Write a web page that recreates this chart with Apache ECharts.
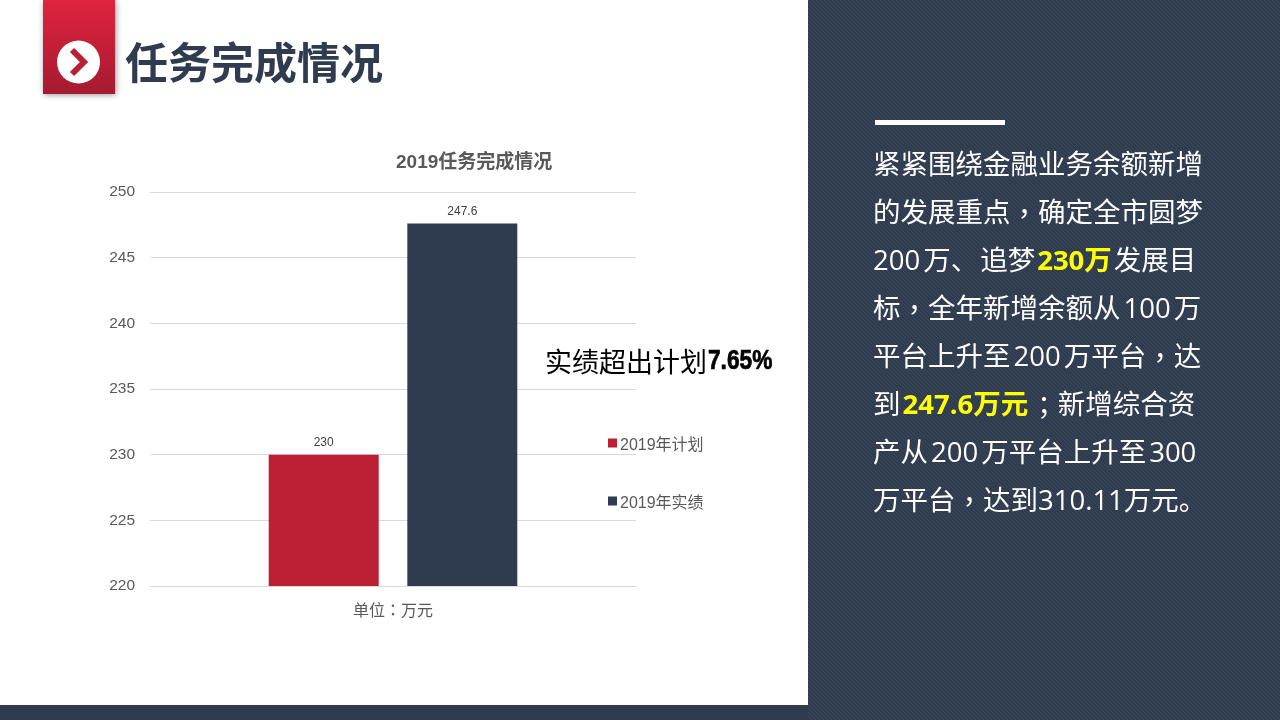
<!DOCTYPE html>
<html>
<head>
<meta charset="utf-8">
<title>任务完成情况</title>
<script src="https://cdn.jsdelivr.net/npm/echarts@6/dist/echarts.min.js"></script>
<style>
html, body { margin: 0; padding: 0; background: #fff; }
#chart { width: 1280px; height: 720px; }
</style>
</head>
<body>
<div id="chart"></div>
<script>
var pageTitle = '任务完成情况';
var chartTitle = '2019任务完成情况';
var categories = ['单位：万元'];
var planName = '2019年计划';
var actualName = '2019年实绩';
var planValues = [230];
var actualValues = [247.6];
var noteText = '实绩超出计划';
var notePercent = '7.65%';

// 右侧说明文字：t 普通，h 黄色加粗，p 居中标点，d 数字（两侧留空）
var sideLines = [
    [['t', '紧紧围绕金融业务余额新增']],
    [['t', '的发展重点'], ['p', '，'], ['t', '确定全市圆梦']],
    [['d', '200'], ['t', '万'], ['s', '、'], ['t', '追梦'], ['h', '230万'], ['t', '发展目']],
    [['t', '标'], ['p', '，'], ['t', '全年新增余额从'], ['d', '100'], ['t', '万']],
    [['t', '平台上升至'], ['d', '200'], ['t', '万平台'], ['p', '，'], ['t', '达']],
    [['t', '到'], ['h', '247.6万元'], ['p', '；'], ['t', '新增综合资']],
    [['t', '产从'], ['d', '200'], ['t', '万平台上升至'], ['d', '300']],
    [['t', '万平台'], ['p', '，'], ['t', '达到310.11万元。']]
];

var cjk = '"Open Sans", "Noto Sans CJK SC", sans-serif';
var cjkTc = '"Noto Sans CJK TC", sans-serif';
var arial = '"Liberation Sans", "Noto Sans CJK SC", sans-serif';
var navy = '#2f3b4e';
var red = '#bb1f33';

// 右侧面板的斜线底纹
function hatchPattern() {
    var c = document.createElement('canvas');
    c.width = 4;
    c.height = 4;
    var ctx = c.getContext('2d');
    ctx.fillStyle = '#2f3b4e';
    ctx.fillRect(0, 0, 4, 4);
    ctx.fillStyle = '#3b4759';
    for (var i = 0; i < 4; i++) {
        ctx.fillRect(i, i, 1, 1);
    }
    return { image: c, repeat: 'repeat' };
}

function sideText() {
    return sideLines.map(function (parts, i) {
        var str = parts.map(function (p) {
            return '{' + p[0] + '|' + p[1] + '}';
        }).join('');
        return {
            type: 'text',
            left: 873,
            top: 152 + i * 48,
            style: {
                text: str,
                rich: {
                    t: { fill: '#fff', font: '27.5px ' + cjk },
                    s: { fill: '#fff', font: '27.5px ' + cjk, padding: [0, 2, 0, 0] },
                    p: { fill: '#fff', font: '27.5px ' + cjkTc },
                    d: { fill: '#fff', font: '27.5px ' + cjk, padding: [0, 3, 0, 3] },
                    h: { fill: '#ffff00', font: 'bold 27.5px ' + cjk, padding: [0, 2, 0, 2] }
                }
            }
        };
    });
}

var graphics = [
    { type: 'rect', shape: { x: 808, y: 0, width: 472, height: 720 }, style: { fill: hatchPattern() } },
    { type: 'rect', shape: { x: 0, y: 705, width: 808, height: 15 }, style: { fill: navy } },
    {
        type: 'rect',
        shape: { x: 43, y: 0, width: 72, height: 94 },
        style: {
            fill: new echarts.graphic.LinearGradient(0, 0, 0, 1, [
                { offset: 0, color: '#e1233f' },
                { offset: 1, color: '#a51b2f' }
            ]),
            shadowBlur: 6,
            shadowColor: 'rgba(0,0,0,0.4)',
            shadowOffsetX: 1,
            shadowOffsetY: 1
        }
    },
    { type: 'circle', shape: { cx: 78.5, cy: 62, r: 21.5 }, style: { fill: '#fff' } },
    {
        type: 'polyline',
        shape: { points: [[72, 50], [84, 62], [72, 74]] },
        style: { stroke: '#bb1f33', lineWidth: 6, fill: null, lineJoin: 'miter', lineCap: 'butt' }
    },
    {
        type: 'text',
        left: 125,
        top: 41,
        style: { text: pageTitle, fill: navy, font: 'bold 43px "Noto Sans CJK SC", sans-serif' }
    },
    {
        type: 'text',
        left: 545,
        top: 348,
        style: { text: noteText, fill: '#000', font: '27px "Noto Sans CJK SC", sans-serif' }
    },
    {
        // 原图是窄黑体，这里横向压缩
        type: 'text',
        x: 708,
        y: 348,
        scaleX: 0.84,
        style: {
            text: notePercent,
            fill: '#000',
            stroke: '#000',
            lineWidth: 0.7,
            font: 'bold 27px ' + arial
        }
    },
    { type: 'rect', shape: { x: 875, y: 120, width: 130, height: 5 }, style: { fill: '#fff' } }
].concat(sideText());

var chart = echarts.init(document.getElementById('chart'));
chart.setOption({
    animation: false,
    title: {
        text: chartTitle,
        left: 391,
        top: 148,
        textStyle: { color: '#595959', fontFamily: arial, fontSize: 19, fontWeight: 'bold' }
    },
    legend: {
        orient: 'vertical',
        left: 603,
        top: 433,
        itemWidth: 9,
        itemHeight: 15,
        itemGap: 42,
        // 色块比文字略高：下半部分留空
        icon: 'path://M0 0H9V9H0Z M0 15H0',
        textStyle: { color: '#595959', fontFamily: arial, fontSize: 16, padding: [0, 0, 0, -2] },
        data: [planName, actualName]
    },
    grid: { left: 150, right: 644, top: 192, bottom: 134 },
    xAxis: {
        type: 'category',
        data: categories,
        axisLine: { lineStyle: { color: '#d9d9d9' } },
        axisTick: { show: false },
        axisLabel: { color: '#595959', fontFamily: cjkTc, fontSize: 16, margin: 16 }
    },
    yAxis: {
        type: 'value',
        min: 220,
        max: 250,
        interval: 5,
        axisLine: { show: false },
        axisTick: { show: false },
        splitLine: { lineStyle: { color: '#d9d9d9' } },
        axisLabel: { color: '#595959', fontFamily: arial, fontSize: 15.5, margin: 15 }
    },
    series: [
        {
            name: planName,
            type: 'bar',
            data: planValues,
            barWidth: 110,
            barGap: '26%',
            itemStyle: { color: red },
            label: { show: true, position: 'top', distance: 6, color: '#404040', fontFamily: arial, fontSize: 12 }
        },
        {
            name: actualName,
            type: 'bar',
            data: actualValues,
            barWidth: 110,
            itemStyle: { color: navy },
            label: { show: true, position: 'top', distance: 6, color: '#404040', fontFamily: arial, fontSize: 12 }
        }
    ],
    graphic: graphics
});
</script>
</body>
</html>
